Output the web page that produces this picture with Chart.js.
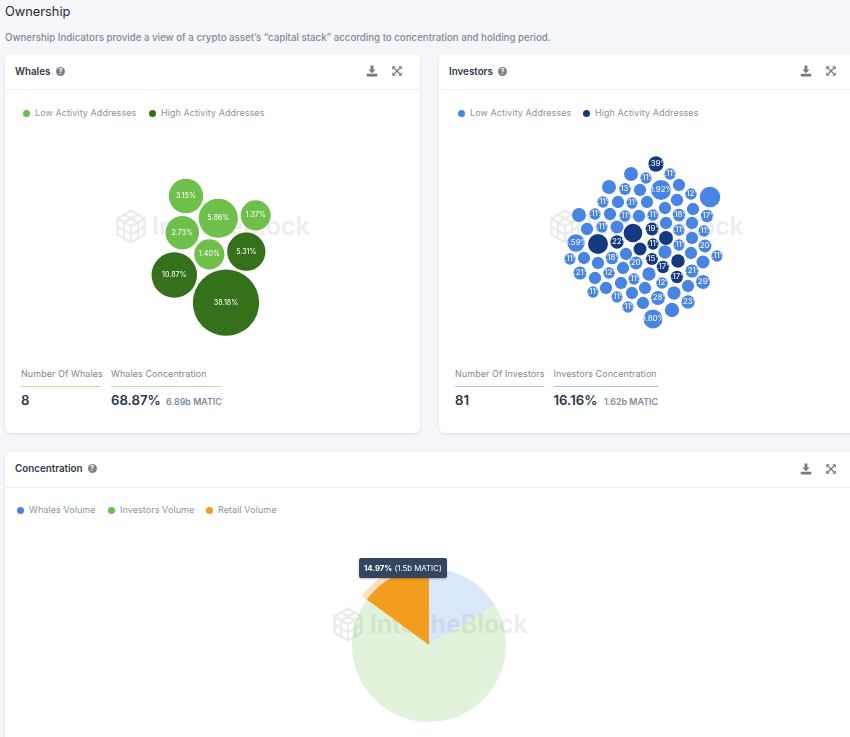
<!DOCTYPE html>
<html>
<head>
<meta charset="utf-8">
<script src="https://cdn.jsdelivr.net/npm/chart.js@4/dist/chart.umd.min.js"></script>
<style>
html,body{margin:0;padding:0;width:850px;height:737px;overflow:hidden;background:#f5f6fa;font-family:Inter,"Noto Sans",sans-serif;}
.a{position:absolute;white-space:nowrap;line-height:1;}
.card{position:absolute;background:#fff;border-radius:6px;box-shadow:0 1px 3px rgba(60,70,90,.14);}
.div{position:absolute;height:1px;background:#eceef2;}
.h{font-size:9.8px;font-weight:600;color:#2f3a4a;}
.lg{font-size:8.95px;font-weight:400;color:#8a93a1;letter-spacing:.1px;}
.dot{position:absolute;width:7px;height:7px;border-radius:50%;}
.st{font-size:8.95px;color:#7c8694;letter-spacing:.1px;}
.big{font-size:13.2px;font-weight:600;color:#2b3648;}
.mt{font-size:8.9px;font-weight:600;color:#808a98;}
.ul{position:absolute;height:1.5px;}
.q{position:absolute;width:9px;height:9px;border-radius:50%;background:#7d8187;color:#fff;font-size:7px;font-weight:700;line-height:9px;text-align:center;}
.wm{position:absolute;font-size:25px;font-weight:600;color:#eceded;line-height:1;white-space:nowrap;}
svg{position:absolute;overflow:visible;}
canvas{position:absolute;}
#tip{position:absolute;left:358.5px;top:558px;width:88.5px;height:20px;background:#34455f;border-radius:2px;color:#fff;font-size:7.8px;line-height:20px;text-indent:5.5px;white-space:nowrap;box-shadow:0 1px 2px rgba(0,0,0,.25);}
</style>
</head>
<body>
<div class="a" style="left:5px;top:5.5px;font-size:12.8px;font-weight:400;color:#232a36;">Ownership</div>
<div class="a" style="left:5px;top:33px;font-size:9.7px;font-weight:500;color:#7f8a9a;">Ownership Indicators provide a view of a crypto asset’s “capital stack” according to concentration and holding period.</div>

<div class="card" style="left:5px;top:54px;width:415px;height:379px;"></div>
<div class="card" style="left:439px;top:54px;width:430px;height:379px;"></div>
<div class="card" style="left:5px;top:452px;width:865px;height:300px;"></div>
<div class="div" style="left:5px;top:89px;width:415px;"></div>
<div class="div" style="left:439px;top:89px;width:411px;"></div>
<div class="div" style="left:5px;top:487px;width:845px;"></div>

<div class="a h" style="left:15px;top:66.5px;">Whales</div><div class="q" style="left:56px;top:66.5px;">?</div>
<div class="a h" style="left:449px;top:66.5px;">Investors</div><div class="q" style="left:498px;top:66.5px;">?</div>
<div class="a h" style="left:15px;top:464px;">Concentration</div><div class="q" style="left:87.5px;top:464px;">?</div>

<div id="icons"></div>
<div id="legends"></div>

<div class="a st" style="left:21px;top:370px;">Number Of Whales</div>
<div class="ul" style="left:21px;top:385.5px;width:80px;background:#bde3a6;"></div>
<div class="a big" style="left:21px;top:393.5px;">8</div>
<div class="a st" style="left:111px;top:370px;">Whales Concentration</div>
<div class="ul" style="left:111px;top:385.5px;width:111px;background:#bde3a6;"></div>
<div class="a big" style="left:111px;top:393.5px;">68.87%</div>
<div class="a mt" style="left:166px;top:397.5px;">6.89b MATIC</div>

<div class="a st" style="left:455px;top:370px;">Number Of Investors</div>
<div class="ul" style="left:455px;top:385.5px;width:89px;background:#a9c4f0;"></div>
<div class="a big" style="left:455px;top:393.5px;">81</div>
<div class="a st" style="left:553.5px;top:370px;">Investors Concentration</div>
<div class="ul" style="left:553.5px;top:385.5px;width:104.5px;background:#a9c4f0;"></div>
<div class="a big" style="left:553.5px;top:393.5px;">16.16%</div>
<div class="a mt" style="left:604px;top:397.5px;">1.62b MATIC</div>

<div id="marks"></div>

<canvas id="whales" width="415" height="230" style="left:5px;top:120px;width:415px;height:230px;"></canvas>
<canvas id="investors" width="411" height="230" style="left:439px;top:120px;width:411px;height:230px;"></canvas>
<canvas id="pie" width="180" height="180" style="left:339px;top:555px;width:180px;height:180px;"></canvas>
<div id="tip"></div>

<script>
// ---- Whales (share %, cluster position, activity flag) ----
const whaleShares = [3.15, 5.86, 1.37, 2.73, 1.40, 5.31, 10.87, 38.18];
const whaleX = [181, 213.3, 250.7, 177.3, 204.3, 241.3, 169.3, 221];
const whaleY = [76, 98.3, 95.3, 112.7, 134.3, 131.7, 155, 182.7];
const whaleHigh = [0, 0, 0, 0, 0, 1, 1, 1];

// ---- Investors ----
const investorShares = [0.39,0.11,0.11,0.27,0.16,0.92,0.16,0.12,1.00,0.27,0.13,0.16,0.16,0.11,0.16,0.11,0.16,0.16,0.27,0.11,0.16,0.11,0.16,0.11,0.18,0.17,0.16,0.11,0.20,0.16,0.16,0.74,0.19,0.11,0.11,0.27,0.16,0.92,0.22,0.59,0.20,0.11,0.22,0.11,0.16,0.20,0.11,0.11,0.16,0.18,0.16,0.16,0.20,0.15,0.24,0.20,0.17,0.21,0.21,0.16,0.12,0.22,0.16,0.11,0.17,0.29,0.12,0.16,0.16,0.16,0.16,0.11,0.16,0.22,0.11,0.28,0.23,0.16,0.11,0.30,0.80];
const investorX = [217,231,207,192,240,222,201,252,271,170,186,208,238,164,179,193,226,254,140,156,171,186,200,214,240,268,148,163,178,227,253,194,213,240,265,227,253,159,178,137,201,214,226,240,252,266,278,131,145,173,187,159,197,213,239,264,224,253,141,184,170,210,156,195,238,264,223,182,167,249,206,154,193,235,178,219,249,204,189,233,214];
const investorY = [44,54,58,54,65,70,70,74,77,67,69,82,80,82,82,83,88,89,95,94,94,96,96,95,95,96,109,107,107,103,103,113,109,110,111,118,118,124,122,123,129,124,132,125,133,126,136,139,138,138,134,143,143,139,141,142,147,151,153,148,153,154,158,159,157,162,163,163,168,166,168,172,173,173,177,178,182,183,187,190,199];
const investorHigh = [1,0,0,0,0,0,0,0,0,0,0,0,0,0,0,0,0,0,0,0,0,0,0,0,0,0,0,0,0,0,0,1,1,0,0,1,0,1,1,0,1,1,0,0,0,0,0,0,0,0,0,0,0,1,1,0,1,0,0,0,0,0,0,0,1,0,0,0,0,0,0,0,0,0,0,0,0,0,0,0,0];
const investorLabels = ["0.39%","0.11%","0.11%","","","0.92%","","0.12%","","","0.13%","","","0.11%","","0.11%","","","","0.11%","","0.11%","","0.11%","0.18%","0.17%","","0.11%","","","","","0.19%","0.11%","0.11%","","","","0.22%","0.59%","","0.11%","","0.11%","","0.20%","0.11%","0.11%","","0.18%","","","0.20%","0.15%","","","0.17%","0.21%","0.21%","","0.12%","","","0.11%","0.17%","0.29%","0.12%","","","","","0.11%","","","0.11%","0.28%","0.23%","","0.11%","","0.80%"];

// ---- Concentration ----
const concentrationLabels = ["Whales Volume", "Investors Volume", "Retail Volume"];
const concentrationValues = [16.16, 68.87, 14.97];
const concentrationAmounts = ["1.62b", "6.89b", "1.5b"];
const hoveredSlice = 2;

// ---- Legends / colours ----
const activityLabels = ["Low Activity Addresses", "High Activity Addresses"];
const GREEN = "#6fbf4b", DGREEN = "#35701a", BLUE = "#4884e2", DBLUE = "#133a80", ORANGE = "#f29d1e";

// bubble radius scale: radius grows with the root of the share
const whaleR = s => 10.8 + 3.62 * Math.sqrt(s);
const investorR = s => 3.45 + 6.8 * Math.sqrt(s);

function bubbleDatasets(xs, ys, shares, high, labels, rFn, low, hi) {
  const make = (flag, col, name) => {
    const idx = shares.map((_, i) => i).filter(i => high[i] === flag);
    return {
      label: name,
      data: idx.map(i => ({x: xs[i], y: ys[i], r: rFn(shares[i])})),
      texts: idx.map(i => labels[i]),
      backgroundColor: col, borderWidth: 0, hoverBorderWidth: 0, clip: false
    };
  };
  return [make(0, low, activityLabels[0]), make(1, hi, activityLabels[1])];
}

const bubbleLabels = {
  id: "bubbleLabels",
  afterDatasetsDraw(chart) {
    const ctx = chart.ctx;
    chart.data.datasets.forEach((ds, d) => {
      chart.getDatasetMeta(d).data.forEach((el, i) => {
        const t = ds.texts[i];
        if (!t) return;
        ctx.save();
        ctx.beginPath();
        ctx.arc(el.x, el.y, el.options.radius, 0, Math.PI * 2);
        ctx.clip();
        ctx.fillStyle = "rgba(255,255,255,.92)";
        ctx.font = chart.canvas.id === "investors" ? "500 7.8px Inter, sans-serif" : "500 7px Inter, sans-serif";
        ctx.textAlign = "center";
        ctx.textBaseline = "middle";
        ctx.fillText(t, el.x, el.y);
        ctx.restore();
      });
    });
  }
};

function bubbleChart(id, w, h, datasets) {
  new Chart(document.getElementById(id), {
    type: "bubble",
    data: {datasets},
    plugins: [bubbleLabels],
    options: {
      responsive: false, animation: false, events: [],
      layout: {padding: 0, autoPadding: false},
      plugins: {legend: {display: false}, tooltip: {enabled: false}},
      scales: {
        x: {type: "linear", display: false, min: 0, max: w},
        y: {type: "linear", display: false, min: 0, max: h, reverse: true}
      }
    }
  });
}

bubbleChart("whales", 415, 230, bubbleDatasets(whaleX, whaleY, whaleShares, whaleHigh, whaleShares.map(v => v.toFixed(2) + "%"), whaleR, GREEN, DGREEN));
bubbleChart("investors", 411, 230, bubbleDatasets(investorX, investorY, investorShares, investorHigh, investorLabels, investorR, BLUE, DBLUE));

const hoverHalo = {
  id: "hoverHalo",
  beforeDatasetsDraw(chart) {
    const el = chart.getDatasetMeta(0).data[hoveredSlice], ctx = chart.ctx;
    ctx.save();
    ctx.beginPath();
    ctx.arc(el.x, el.y, el.outerRadius + 6, el.startAngle, el.endAngle);
    ctx.arc(el.x, el.y, el.outerRadius, el.endAngle, el.startAngle, true);
    ctx.closePath();
    ctx.fillStyle = "rgba(242,157,30,.3)";
    ctx.fill();
    ctx.restore();
  }
};

new Chart(document.getElementById("pie"), {
  type: "pie",
  data: {
    labels: concentrationLabels,
    datasets: [{
      data: concentrationValues,
      radius: 77,
      borderWidth: 0,
      backgroundColor: ["rgba(72,132,226,.2)", "rgba(111,191,75,.2)", ORANGE]
    }]
  },
  plugins: [hoverHalo],
  options: {
    responsive: false, animation: false, events: [],
    layout: {padding: 0},
    plugins: {legend: {display: false}, tooltip: {enabled: false}}
  }
});

document.getElementById("tip").innerHTML =
  "<b>" + concentrationValues[hoveredSlice].toFixed(2) + "%</b> (" + concentrationAmounts[hoveredSlice] + " MATIC)";

// ---- HTML legends ----
const legendSpecs = [
  [26, 113, GREEN, 35, activityLabels[0]], [152, 113, DGREEN, 161, activityLabels[1]],
  [461, 113, BLUE, 470, activityLabels[0]], [586, 113, DBLUE, 595, activityLabels[1]],
  [20, 510, BLUE, 29, concentrationLabels[0]], [111, 510, GREEN, 120, concentrationLabels[1]], [209, 510, ORANGE, 218, concentrationLabels[2]]
];
document.getElementById("legends").innerHTML = legendSpecs.map(s =>
  `<div class="dot" style="left:${s[0]-3.5}px;top:${s[1]-3.5}px;background:${s[2]}"></div>` +
  `<div class="a lg" style="left:${s[3]}px;top:${s[1]-4.5}px">${s[4]}</div>`).join("");

// ---- Toolbar icons ----
const dl = (x, y) => `<svg style="left:${x-6}px;top:${y-6}px" width="12" height="12" viewBox="0 0 12 12"><path d="M4.6 0.5h2.8v4h2.2L6 8.2 2.4 4.5h2.2z" fill="#757a80"/><rect x="0.8" y="8.8" width="10.4" height="2.6" rx="0.5" fill="#757a80"/></svg>`;
const ex = (x, y) => `<svg style="left:${x-5}px;top:${y-5}px" width="10" height="10" viewBox="0 0 10 10" fill="#757a80" stroke="#757a80"><path d="M0.4 0.4h3L0.4 3.4zM9.6 0.4h-3l3 3zM0.4 9.6h3l-3-3zM9.6 9.6h-3l3-3z" stroke-width=".4"/><path d="M2 2l6 6M8 2l-6 6" stroke-width="1.3" fill="none"/></svg>`;
document.getElementById("icons").innerHTML =
  dl(372, 71) + ex(397, 71) + dl(806, 71) + ex(831, 71) + dl(806, 469) + ex(831, 469);

// ---- Watermarks ----
const logo = (x, y) => `<svg style="left:${x}px;top:${y}px" width="30" height="35" viewBox="0 0 30 35" fill="none" stroke="#e9eaea" stroke-width="2.2"><path d="M15 1.5L28.5 9.5V25.5L15 33.5L1.5 25.5V9.5Z"/><path d="M1.5 9.5L15 17.5L28.5 9.5M15 17.5V33.5M8 5.5L22 13.5V29.5M22 5.5L8 13.5V29.5M1.5 17.5L15 25.5L28.5 17.5"/></svg>`;
const word = (x, y) => `<div class="wm" style="left:${x}px;top:${y}px">IntoTheBlock</div>`;
document.getElementById("marks").innerHTML =
  logo(116, 209) + word(152, 213.5) + logo(550, 209) + word(586, 213.5) + logo(333, 607) + word(370, 611.5);
</script>
</body>
</html>
